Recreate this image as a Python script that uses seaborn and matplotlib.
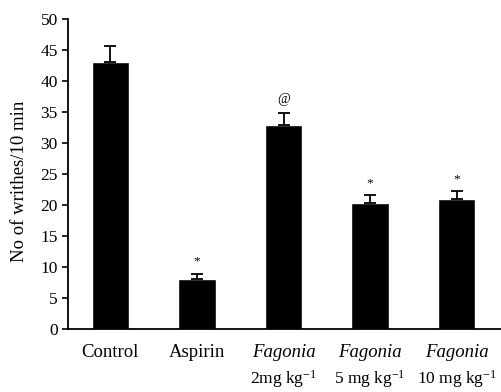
import matplotlib
matplotlib.use("Agg")
import matplotlib.pyplot as plt
import matplotlib.transforms as mtransforms
import seaborn as sns
import pandas as pd

groups = ["Control", "Aspirin", "Fagonia 2", "Fagonia 5", "Fagonia 10"]
line1 = ["Control", "Aspirin", "Fagonia", "Fagonia", "Fagonia"]
line1_italic = [False, False, True, True, True]
line2 = ["", "", "2mg kg$^{-1}$", "5 mg kg$^{-1}$", "10 mg kg$^{-1}$"]
means = [43.0, 8.0, 32.9, 20.3, 20.9]
sems = [2.6, 0.9, 2.0, 1.3, 1.3]
marks = ["", "*", "@", "*", "*"]

sns.set_theme(style="ticks")
plt.rcParams["font.family"] = ["Liberation Serif", "DejaVu Serif"]
plt.rcParams["mathtext.fontset"] = "custom"
plt.rcParams["mathtext.rm"] = "Liberation Serif"
plt.rcParams["mathtext.it"] = "Liberation Serif:italic"
for k in ["text.color", "axes.labelcolor", "xtick.color", "ytick.color",
          "axes.edgecolor"]:
    plt.rcParams[k] = "black"

df = pd.DataFrame({"group": groups, "value": means})

fig = plt.figure(figsize=(5.02, 3.92), dpi=100)
ax = fig.add_axes([0.1355, 0.1607, 0.862, 0.7908])
sns.barplot(data=df, x="group", y="value", color="black", width=0.43,
            saturation=1, ax=ax, errorbar=None)
ax.errorbar(range(len(groups)), means, yerr=[[0]*len(sems), sems], fmt="none",
            ecolor="black", elinewidth=1.3, capsize=4, capthick=1.3)

for i, (m, s, t) in enumerate(zip(means, sems, marks)):
    if t:
        ax.text(i, m + s + 1.0, t, ha="center", va="bottom",
                fontsize=10 if t == "@" else 9.5, color="black")

ax.set_xlim(-0.49, 4.51)
ax.set_ylim(0, 50)
ax.set_yticks(range(0, 51, 5))
ax.set_xticks(range(len(groups)))
ax.set_xticklabels(line1, fontsize=13.5)
for lab, it in zip(ax.get_xticklabels(), line1_italic):
    if it:
        lab.set_style("italic")
ax.tick_params(axis="x", length=0, pad=11)
ax.tick_params(axis="y", length=4.3, width=1.2, labelsize=12.5, pad=3, direction="out")
trans = mtransforms.blended_transform_factory(ax.transData, ax.transAxes)
for i, t in enumerate(line2):
    if t:
        ax.text(i, -0.125, t, transform=trans, ha="center", va="top", fontsize=12.5)

ax.set_xlabel("")
ax.set_ylabel("No of writhes/10 min", fontsize=13.5)
ax.yaxis.set_label_coords(-0.092, 0.477)
sns.despine(ax=ax)
for sp in ["left", "bottom"]:
    ax.spines[sp].set_linewidth(1.3)
    ax.spines[sp].set_color("black")

fig.savefig("out.png", dpi=100)
